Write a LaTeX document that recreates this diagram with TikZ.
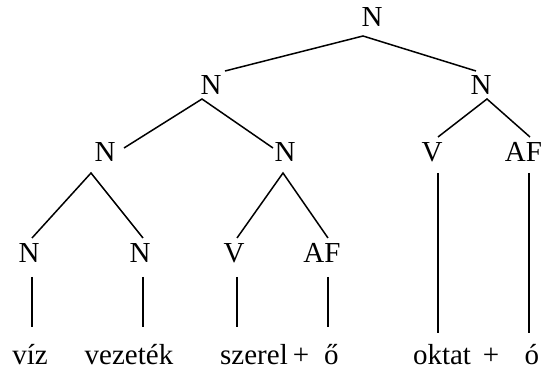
\documentclass[tikz,border=0pt]{standalone}
\usepackage{fontspec}
\setmainfont{Liberation Serif}
\begin{document}
\begin{tikzpicture}[x=0.5pt,y=-0.5pt,
  lab/.style={inner sep=0pt,anchor=base,font=\fontsize{14.5}{16}\selectfont},
  edge/.style={line width=0.75pt}]
\useasboundingbox (0,0) rectangle (543,369);
% category labels (baseline = cap centre + 9.5)
\node[lab] (r) at (372,27) {N};
\node[lab] (a) at (211,94.5) {N};
\node[lab] (b) at (481,94.5) {N};
\node[lab] (c) at (105,162) {N};
\node[lab] (d) at (285,162) {N};
\node[lab] (e) at (432,162) {V};
\node[lab] (f) at (523.5,162) {AF};
\node[lab] (g) at (29,263) {N};
\node[lab] (h) at (140,263) {N};
\node[lab] (i) at (234,263) {V};
\node[lab] (j) at (322,263) {AF};
% words
\node[lab] (w1) at (30,365) {víz};
\node[lab] (w2) at (129,365) {vezeték};
\node[lab] (w3) at (254,365) {szerel};
\node[lab] (p1) at (301,365) {+};
\node[lab] (w4) at (331.5,365) {ő};
\node[lab] (w5) at (442,365) {oktat};
\node[lab] (p2) at (491,365) {+};
\node[lab] (w6) at (532,365) {ó};
% connector end points
\coordinate (rs) at (363,36);
\coordinate (an) at (225,71);
\coordinate (bn) at (476,71);
\coordinate (as) at (202,99);
\coordinate (cn) at (124,148);
\coordinate (dn) at (273,148);
\coordinate (bs) at (487,99);
\coordinate (en) at (438,137);
\coordinate (fn) at (530,137);
\coordinate (cs) at (91,173);
\coordinate (gn) at (32,238);
\coordinate (hn) at (143,238);
\coordinate (ds) at (283,173);
\coordinate (in) at (237,238);
\coordinate (jn) at (328,238);
\coordinate (gs) at (32,277);
\coordinate (w1n) at (32,327);
\coordinate (hs) at (143,277);
\coordinate (w2n) at (143,327);
\coordinate (is) at (237,277);
\coordinate (w3n) at (237,327);
\coordinate (js) at (328,277);
\coordinate (w4n) at (328,327);
\coordinate (es) at (438,173);
\coordinate (w5n) at (438,333);
\coordinate (fs) at (529,173);
\coordinate (w6n) at (529,333);
\draw[edge] (an) -- (rs) -- (bn);
\draw[edge] (cn) -- (as) -- (dn);
\draw[edge] (en) -- (bs) -- (fn);
\draw[edge] (gn) -- (cs) -- (hn);
\draw[edge] (in) -- (ds) -- (jn);
\draw[edge] (gs) -- (w1n);
\draw[edge] (hs) -- (w2n);
\draw[edge] (is) -- (w3n);
\draw[edge] (js) -- (w4n);
\draw[edge] (es) -- (w5n);
\draw[edge] (fs) -- (w6n);
\end{tikzpicture}
\end{document}
